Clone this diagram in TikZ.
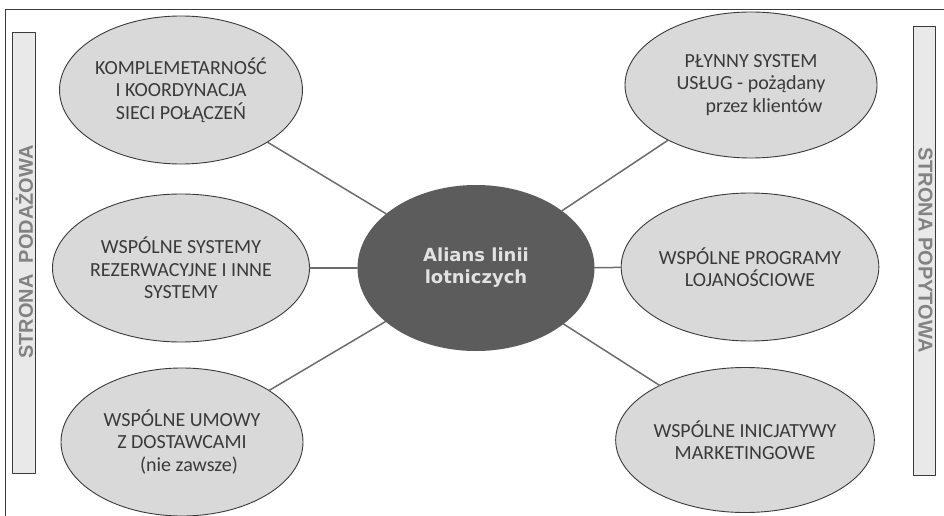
\documentclass[tikz,border=0pt]{standalone}
\usepackage{fontspec}
\setmainfont{Carlito}
\newfontfamily\hubfont{DejaVu Sans}
\newfontfamily\sidefont{Liberation Sans}
\usepackage{xcolor}
\usepackage{tikz}
\usetikzlibrary{shapes.geometric}
\definecolor{alframe}{HTML}{3A3A3A}
\definecolor{alfill}{HTML}{D9D9D9}
\definecolor{alhub}{HTML}{5C5C5C}
\definecolor{alline}{HTML}{6C6C6C}
\definecolor{alside}{HTML}{828282}
\definecolor{albar}{HTML}{E9E9EA}
\definecolor{alhubtext}{HTML}{E2E2E2}

\begin{document}
\begin{tikzpicture}[x=1pt, y=-1pt, line cap=round, line join=round,
    leaf/.style={ellipse, draw=alframe, fill=alfill, line width=0.9,
      minimum width=242, minimum height=148, inner sep=0, align=center,
      text=alframe, font=\fontsize{20}{22.5}\selectfont},
    hub/.style={ellipse, fill=alhub, minimum width=237, minimum height=166,
      inner sep=0, align=center, text=alhubtext,
      font=\hubfont\bfseries\fontsize{18}{22}\selectfont},
    spoke/.style={draw=alline, line width=1.5},
    sidebar/.style={draw=alframe, fill=albar, line width=1},
    sidetext/.style={text=alside, font=\sidefont\bfseries\fontsize{20}{20}\selectfont}]
  \useasboundingbox (0,0) rectangle (944,516);
  % frame
  \draw[alframe, line width=1] (5,516) -- (5,10) -- (944,10);
  % side bars
  \filldraw[sidebar] (12,33) rectangle (35,473);
  \filldraw[sidebar] (913,27) rectangle (935,475);
  \node[sidetext, rotate=90] (supply) at (24.5,252) {STRONA\ \ PODAŻOWA};
  \node[sidetext, rotate=-90] (demand) at (925.5,250) {STRONA POPYTOWA};
  % centre
  \node[hub] (alliance) at (476,268) {Alians linii\\lotniczych};
  % supply side
  \node[leaf] (network) at (181,90)
    {KOMPLEMETARNOŚĆ\\I KOORDYNACJA\\SIECI POŁĄCZEŃ};
  \node[leaf] (booking) at (181,268)
    {WSPÓLNE SYSTEMY\\REZERWACYJNE I INNE\\SYSTEMY};
  \node[leaf] (suppliers) at (182,442)
    {WSPÓLNE UMOWY\\Z DOSTAWCAMI\\\hspace*{14pt}(nie zawsze)};
  % demand side
  \node[leaf, minimum width=252, minimum height=146] (service) at (751,85)
    {PŁYNNY SYSTEM\\USŁUG - pożądany\\\hspace*{26pt}przez klientów};
  \node[leaf, minimum width=253] (loyalty) at (750,267)
    {WSPÓLNE PROGRAMY\\LOJANOŚCIOWE};
  \node[leaf, minimum width=250, minimum height=145] (marketing) at (745,440)
    {WSPÓLNE INICJATYWY\\MARKETINGOWE};
  % spokes
  \foreach \leafname in {network,booking,suppliers,service,loyalty,marketing}
    \draw[spoke] (alliance) -- (\leafname);
\end{tikzpicture}
\end{document}
